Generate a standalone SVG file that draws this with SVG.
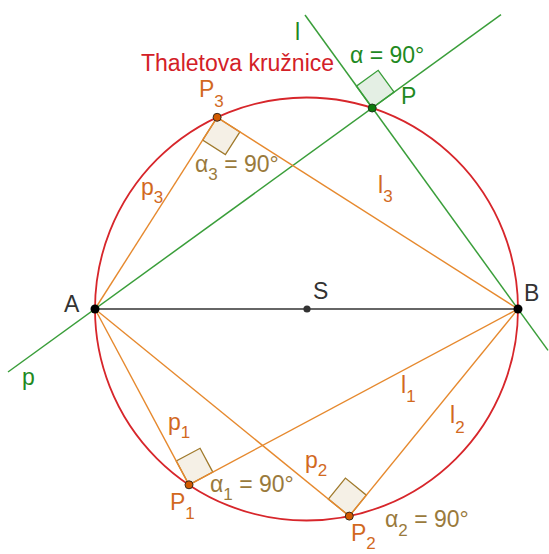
<svg xmlns="http://www.w3.org/2000/svg" width="549" height="554" viewBox="0 0 549 554">
<style>
text{font-family:"Liberation Sans",Arial,sans-serif;font-size:23px}
.sub{font-size:17px}
.or{fill:#d2691e}
.ang{fill:#9a7a3c}
.gr{fill:#1f8a1f}
.dk{fill:#333}
.oline{stroke:#e6892e;stroke-width:1.4;fill:none}
.gline{stroke:#3a9e3a;stroke-width:1.5;fill:none}
.sqo{fill:#f5f0e6;stroke:#a07a2c;stroke-width:1.3}
.sqg{fill:#e4efe4;stroke:#3a9e3a;stroke-width:1.3}
.pto{fill:#d35a00;stroke:#3a2a1a;stroke-width:1}
</style>
<rect width="549" height="554" fill="#fff"/>
<g id="angles">
<polygon class="sqo" points="217.12,117.32 202.61,140.09 225.38,154.60 239.89,131.83"/>
<polygon class="sqo" points="189,484.8 176.27,460.99 200.08,448.26 212.81,472.07"/>
<polygon class="sqo" points="349.3,516.1 328.36,499.05 345.41,478.12 366.35,495.17"/>
<polygon class="sqg" points="372.2,108 394.06,92.15 378.21,70.29 356.35,86.14"/>
</g>
<g id="circle">
<circle cx="306.5" cy="309" r="211.5" fill="none" stroke="#d7262b" stroke-width="1.8"/>
<text x="141" y="71" fill="#d32027">Thaletova kružnice</text>
</g>
<g id="connectors">
<line x1="95" y1="309" x2="518" y2="309" stroke="#333" stroke-width="1.5"/>
<line class="gline" x1="8" y1="372" x2="501" y2="14.6"/>
<line class="gline" x1="305" y1="15" x2="548" y2="350.4"/>
<line class="oline" x1="95" y1="309" x2="217.12" y2="117.32"/>
<line class="oline" x1="217.12" y1="117.32" x2="518" y2="309"/>
<line class="oline" x1="95" y1="309" x2="189" y2="484.8"/>
<line class="oline" x1="189" y1="484.8" x2="518" y2="309"/>
<line class="oline" x1="95" y1="309" x2="349.3" y2="516.1"/>
<line class="oline" x1="349.3" y1="516.1" x2="518" y2="309"/>
</g>
<g id="line-labels">
<text class="gr" x="22" y="385">p</text>
<text class="gr" x="295" y="40">l</text>
<text class="or" x="141" y="195">p<tspan class="sub" dy="8">3</tspan></text>
<text class="or" x="378" y="193">l<tspan class="sub" dy="9">3</tspan></text>
<text class="or" x="168" y="430">p<tspan class="sub" dy="8">1</tspan></text>
<text class="or" x="401" y="393">l<tspan class="sub" dy="9">1</tspan></text>
<text class="or" x="305" y="468">p<tspan class="sub" dy="8">2</tspan></text>
<text class="or" x="450" y="423">l<tspan class="sub" dy="10">2</tspan></text>
<text class="ang" x="195" y="172">α<tspan class="sub" dy="8">3</tspan><tspan dy="-8"> = 90°</tspan></text>
<text class="ang" x="210" y="492">α<tspan class="sub" dy="8">1</tspan><tspan dy="-8"> = 90°</tspan></text>
<text class="ang" x="385" y="527">α<tspan class="sub" dy="9">2</tspan><tspan dy="-9"> = 90°</tspan></text>
<text class="gr" x="350" y="63">α = 90°</text>
</g>
<g id="A">
<circle cx="95" cy="309" r="4.5" fill="#000"/>
<text class="dk" x="64" y="312">A</text>
</g>
<g id="B">
<circle cx="518" cy="309" r="4.5" fill="#000"/>
<text class="dk" x="524" y="301">B</text>
</g>
<g id="S">
<circle cx="307" cy="309" r="3.6" fill="#333"/>
<text class="dk" x="313" y="299">S</text>
</g>
<g id="P">
<circle cx="372.2" cy="108" r="4" fill="#0c7a0c" stroke="#1a3a1a" stroke-width="1"/>
<text class="gr" x="401" y="104">P</text>
</g>
<g id="P3">
<circle class="pto" cx="217.12" cy="117.32" r="4"/>
<text class="or" x="199" y="97">P<tspan class="sub" dy="10">3</tspan></text>
</g>
<g id="P1">
<circle class="pto" cx="189" cy="484.8" r="4"/>
<text class="or" x="170" y="510">P<tspan class="sub" dy="9">1</tspan></text>
</g>
<g id="P2">
<circle class="pto" cx="349.3" cy="516.1" r="4"/>
<text class="or" x="351" y="541">P<tspan class="sub" dy="8">2</tspan></text>
</g>
</svg>
